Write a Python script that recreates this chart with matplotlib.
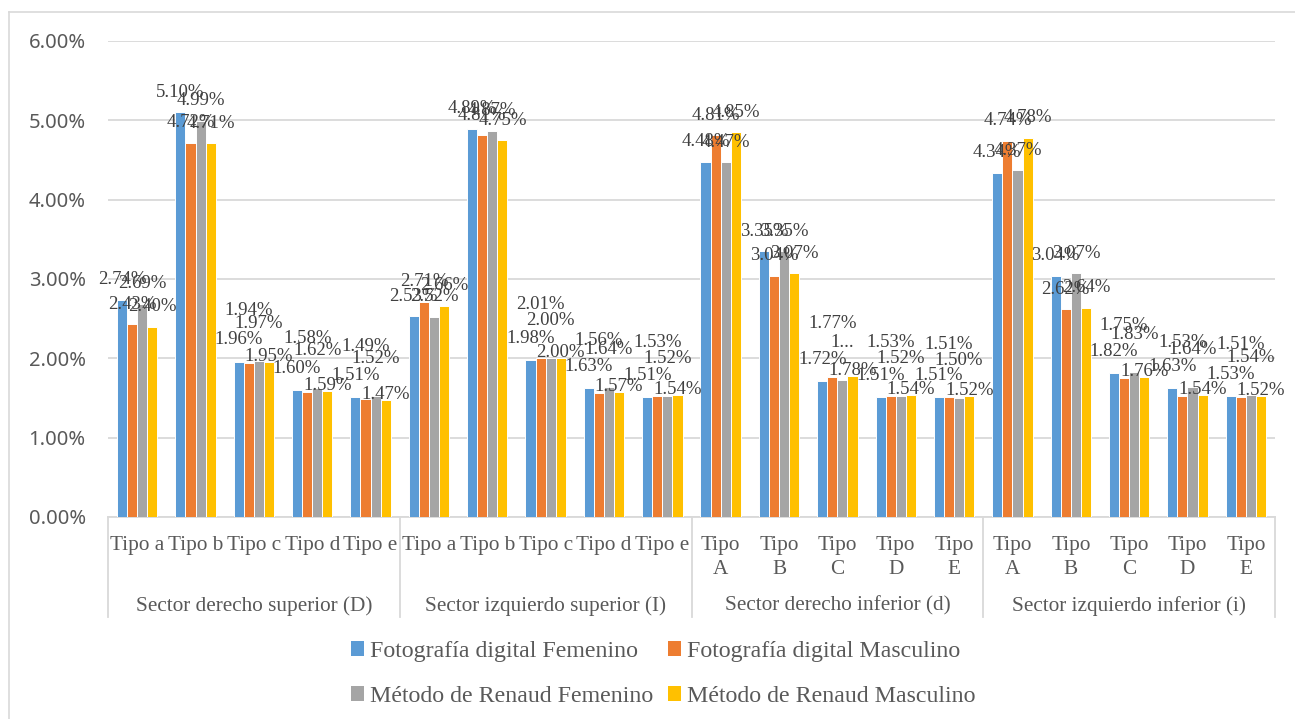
import numpy as np
import matplotlib
matplotlib.use('Agg')
import matplotlib.pyplot as plt
from matplotlib.patches import Patch
from matplotlib.lines import Line2D

# sectors and types along the x axis
sectors = ['Sector derecho superior (D)', 'Sector izquierdo superior (I)',
           'Sector derecho inferior (d)', 'Sector izquierdo inferior (i)']
tipos = [['Tipo a', 'Tipo b', 'Tipo c', 'Tipo d', 'Tipo e'],
         ['Tipo a', 'Tipo b', 'Tipo c', 'Tipo d', 'Tipo e'],
         ['Tipo\nA', 'Tipo\nB', 'Tipo\nC', 'Tipo\nD', 'Tipo\nE'],
         ['Tipo\nA', 'Tipo\nB', 'Tipo\nC', 'Tipo\nD', 'Tipo\nE']]

series_names = ['Fotografía digital Femenino', 'Fotografía digital Masculino',
                'Método de Renaud Femenino', 'Método de Renaud Masculino']

# values in percent
foto_fem = [2.74, 5.10, 1.96, 1.60, 1.51, 2.53, 4.89, 1.98, 1.63, 1.51,
            4.48, 3.35, 1.72, 1.51, 1.51, 4.34, 3.04, 1.82, 1.63, 1.53]
foto_masc = [2.43, 4.72, 1.94, 1.58, 1.49, 2.71, 4.81, 2.01, 1.56, 1.53,
             4.81, 3.04, 1.77, 1.53, 1.51, 4.74, 2.62, 1.75, 1.53, 1.51]
renaud_fem = [2.69, 4.99, 1.97, 1.62, 1.52, 2.52, 4.87, 2.00, 1.64, 1.52,
              4.47, 3.35, 1.73, 1.52, 1.50, 4.37, 3.07, 1.83, 1.64, 1.54]
renaud_masc = [2.40, 4.71, 1.95, 1.59, 1.47, 2.66, 4.75, 2.00, 1.57, 1.54,
               4.85, 3.07, 1.78, 1.54, 1.52, 4.78, 2.64, 1.76, 1.54, 1.52]

colors = ['#5B9BD5', '#ED7D31', '#A5A5A5', '#FFC000']
serif = 'Liberation Serif'
txt_col = '#595959'

W, H = 1295, 719
fig = plt.figure(figsize=(W / 100, H / 100), dpi=100)
ax = fig.add_axes([108 / W, 1 - 517 / H, (1275 - 108) / W, (517 - 41) / H])

# outer chart border (left and top visible)
fig.add_artist(Line2D([9 / W, 9 / W], [0, 1 - 12 / H], transform=fig.transFigure,
                      color='#D9D9D9', lw=1.2))
fig.add_artist(Line2D([9 / W, 1], [1 - 12 / H, 1 - 12 / H], transform=fig.transFigure,
                      color='#D9D9D9', lw=1.2))

all_series = [foto_fem, foto_masc, renaud_fem, renaud_masc]
n = len(foto_fem)
x = np.arange(n)
bw = 0.173

# label offsets in points above bar top; staggered for short bars with close values
base_off = 14.5
stagger_off = [15.5, 38, 27, 4]

arr = np.array(all_series)
crowded = (np.ptp(arr, axis=0) < 0.2) & (arr.max(axis=0) < 2.1)
for k, vals in enumerate(all_series):
    xs = x + (k - 1.5) * bw
    ax.bar(xs, vals, width=bw, color=colors[k], edgecolor='white', linewidth=0.7,
           zorder=3, label=series_names[k])
    for i, (xi, v) in enumerate(zip(xs, vals)):
        lbl = f'{v:.2f}%'
        if k == 2 and i == 12:
            lbl = '1...'  # truncated in the original
        dy = stagger_off[k] if crowded[i] else base_off
        ax.annotate(lbl, (xi, v), xytext=(0, dy), textcoords='offset points',
                    ha='center', va='center', fontsize=13.5, family=serif,
                    color='#404040', zorder=4)

ax.set_xlim(-0.5, n - 0.5)
ax.set_ylim(0, 6)
ax.set_yticks(np.arange(0, 7, 1))
ax.set_yticklabels([f'{t:.2f}%' for t in range(7)], fontsize=14.5, color=txt_col,
                   family='Noto Sans')
ax.yaxis.grid(True, color='#D9D9D9', lw=1.3, zorder=0)
ax.tick_params(axis='y', length=0, pad=16)
for s in ['left', 'right', 'top']:
    ax.spines[s].set_visible(False)
ax.spines['bottom'].set_color('#D9D9D9')
ax.spines['bottom'].set_linewidth(1.3)

flat_tipos = [t for grp in tipos for t in grp]
ax.set_xticks(x)
ax.set_xticklabels(flat_tipos, fontsize=15.3, family=serif, color=txt_col,
                   linespacing=1.3)
ax.tick_params(axis='x', length=0, pad=14)

trans = ax.get_xaxis_transform()
ax_h = 517 - 41
for g, name in enumerate(sectors):
    ax.text(g * 5 + 2, -(606 - 517) / ax_h, name, transform=trans, ha='center',
            va='center', fontsize=15.3, family=serif, color=txt_col)
for b in range(len(sectors) + 1):
    ax.plot([b * 5 - 0.5, b * 5 - 0.5], [0, -(617 - 517) / ax_h], transform=trans,
            color='#D9D9D9', lw=1.3, clip_on=False)

# legend filled row by row like the original
handles = [Patch(facecolor=c) for c in colors]
order = [0, 2, 1, 3]
fig.legend([handles[i] for i in order], [series_names[i] for i in order],
           ncol=2, loc='center', bbox_to_anchor=(663 / W, 1 - 674 / H),
           frameon=False, prop={'family': serif, 'size': 17.2}, labelcolor=txt_col,
           handlelength=0.55, handleheight=0.55, handletextpad=0.25,
           columnspacing=0.6, labelspacing=1.0)

fig.savefig('out.png', dpi=100)
